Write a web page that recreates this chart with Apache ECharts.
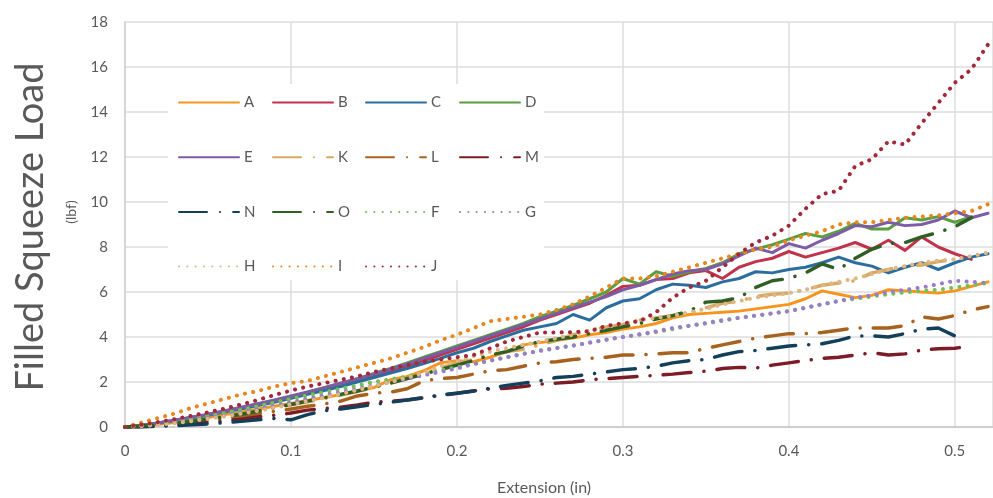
<!DOCTYPE html>
<html>
<head>
<meta charset="utf-8">
<script src="https://cdn.jsdelivr.net/npm/echarts@6/dist/echarts.min.js"></script>
<style>
html,body{margin:0;padding:0;background:#fff;}
#chart{width:993px;height:498px;}
</style>
</head>
<body>
<div id="chart"></div>
<script>
// Extension (in) sample points
var xs = [0,0.01,0.02,0.03,0.04,0.05,0.06,0.07,0.08,0.09,0.10,0.11,0.12,0.13,0.14,0.15,0.16,0.17,0.18,0.19,0.20,0.21,0.22,0.23,0.24,0.25,0.26,0.27,0.28,0.29,0.30,0.31,0.32,0.33,0.34,0.35,0.36,0.37,0.38,0.39,0.40,0.41,0.42,0.43,0.44,0.45,0.46,0.47,0.48,0.49,0.50,0.51,0.52];
var xTicks = [0,0.1,0.2,0.3,0.4,0.5];
var yTicks = [0,2,4,6,8,10,12,14,16,18];

var A = [0,0.05,0.12,0.2,0.3,0.42,0.55,0.66,0.8,0.92,1.05,1.18,1.3,1.45,1.6,1.75,2.1,2.25,2.5,2.85,2.95,2.9,3.1,3.35,3.65,3.75,3.85,3.95,4.1,4.2,4.35,4.45,4.6,4.85,5.0,5.05,5.1,5.15,5.25,5.35,5.45,5.7,6.05,5.9,5.75,5.85,6.1,6.05,6.0,5.95,6.05,6.25,6.45];
var B = [0,0.08,0.18,0.3,0.42,0.55,0.7,0.85,1.0,1.15,1.32,1.5,1.7,1.9,2.1,2.3,2.5,2.72,2.95,3.2,3.45,3.7,3.95,4.2,4.45,4.75,5.0,5.25,5.5,5.85,6.25,6.3,6.55,6.6,6.85,6.95,6.6,7.1,7.35,7.5,7.8,7.55,7.75,7.95,8.2,7.9,8.3,7.85,8.45,8.0,7.7,7.45];
var C = [0,0.08,0.17,0.28,0.4,0.52,0.66,0.8,0.95,1.1,1.28,1.45,1.62,1.8,2.0,2.2,2.4,2.6,2.82,3.05,3.3,3.5,3.8,4.05,4.3,4.45,4.6,5.0,4.75,5.3,5.6,5.7,6.1,6.35,6.3,6.2,6.45,6.6,6.9,6.85,7.0,7.1,7.3,7.55,7.3,7.15,6.85,7.1,7.3,7.0,7.3,7.55,7.7];
var D = [0,0.08,0.18,0.3,0.42,0.55,0.7,0.86,1.02,1.18,1.35,1.55,1.75,1.95,2.15,2.38,2.6,2.85,3.1,3.35,3.6,3.85,4.1,4.35,4.6,4.9,5.15,5.4,5.7,6.0,6.6,6.35,6.9,6.7,6.9,7.05,7.3,7.7,7.9,8.1,8.35,8.6,8.45,8.7,9.05,8.8,8.8,9.3,9.2,9.35,9.1,9.35];
var E = [0,0.08,0.18,0.3,0.43,0.57,0.72,0.88,1.04,1.2,1.38,1.56,1.75,1.95,2.15,2.35,2.57,2.8,3.05,3.3,3.55,3.8,4.05,4.3,4.55,4.8,5.05,5.3,5.55,5.8,6.1,6.3,6.55,6.8,6.95,7.0,7.25,7.6,7.95,7.75,8.15,7.95,8.3,8.6,8.95,8.9,9.1,8.95,9.0,9.2,9.6,9.3,9.5];
var K = [0,0.05,0.11,0.18,0.26,0.35,0.46,0.58,0.72,0.86,1.0,1.12,1.26,1.42,1.58,1.75,1.95,2.15,2.38,2.62,2.85,3.0,3.2,3.35,3.45,3.65,3.85,4.1,4.3,4.45,4.55,4.75,4.85,4.95,5.05,5.3,5.5,5.6,5.8,5.9,5.95,6.1,6.3,6.4,6.5,6.85,7.0,7.15,7.2,7.35,7.45];
var L = [0,0.02,0.06,0.12,0.2,0.28,0.38,0.48,0.58,0.7,0.8,0.92,1.02,1.15,1.38,1.5,1.55,1.7,2.05,2.15,2.2,2.35,2.5,2.55,2.7,2.85,2.9,3.0,3.05,3.1,3.2,3.2,3.25,3.3,3.3,3.5,3.65,3.8,3.95,4.05,4.15,4.15,4.2,4.3,4.4,4.4,4.4,4.5,4.9,4.8,4.95,5.2,5.35];
var M = [0,0.02,0.05,0.09,0.14,0.2,0.27,0.35,0.45,0.52,0.62,0.75,0.82,0.88,0.98,1.1,1.15,1.2,1.3,1.4,1.5,1.6,1.7,1.72,1.8,1.9,1.95,2.0,2.1,2.15,2.2,2.25,2.3,2.35,2.42,2.48,2.6,2.65,2.62,2.75,2.85,2.95,3.05,3.1,3.2,3.3,3.2,3.25,3.42,3.48,3.5,3.6];
var N = [0,0.01,0.03,0.06,0.1,0.14,0.19,0.25,0.32,0.38,0.32,0.55,0.72,0.8,0.9,1.0,1.1,1.2,1.3,1.42,1.5,1.6,1.72,1.85,1.95,2.05,2.2,2.25,2.35,2.45,2.55,2.6,2.7,2.85,2.95,3.0,3.2,3.35,3.4,3.5,3.6,3.65,3.7,3.85,4.05,4.05,4.0,4.15,4.35,4.4,4.05];
var O = [0,0.05,0.1,0.17,0.25,0.35,0.45,0.57,0.7,0.85,1.0,1.15,1.3,1.45,1.6,1.78,1.95,2.15,2.35,2.55,2.75,2.95,3.2,3.35,3.6,3.8,3.9,4.0,4.15,4.3,4.45,4.6,4.8,4.95,5.15,5.55,5.6,5.75,6.2,6.5,6.6,6.85,7.25,7.0,7.5,7.9,8.15,8.2,8.45,8.65,8.9,9.3];
var F = [0,0.06,0.14,0.24,0.36,0.48,0.62,0.76,0.92,1.08,1.25,1.4,1.55,1.7,1.85,2.0,2.12,2.25,2.4,2.52,2.65,2.8,2.95,3.1,3.25,3.4,3.52,3.62,3.75,3.88,4.0,4.1,4.22,4.35,4.5,4.6,4.72,4.85,4.95,5.05,5.15,5.3,5.45,5.6,5.7,5.8,5.9,5.98,6.05,6.1,6.2,6.3,6.4];
var G = [0,0.05,0.11,0.19,0.29,0.4,0.52,0.65,0.8,0.95,1.1,1.25,1.4,1.55,1.7,1.85,2.0,2.15,2.3,2.45,2.6,2.8,2.95,3.1,3.25,3.38,3.5,3.62,3.75,3.88,4.0,4.12,4.25,4.4,4.5,4.62,4.75,4.85,4.95,5.05,5.15,5.3,5.45,5.6,5.75,5.85,6.0,6.1,6.2,6.35,6.5,6.45,6.4];
var H = [0,0.04,0.1,0.17,0.26,0.36,0.47,0.59,0.72,0.86,1.0,1.15,1.3,1.47,1.64,1.82,2.0,2.2,2.42,2.7,2.95,3.15,3.35,3.5,3.65,3.8,3.95,4.1,4.3,4.45,4.6,4.75,4.85,4.95,5.1,5.25,5.45,5.6,5.75,5.85,5.95,6.1,6.3,6.45,6.6,6.8,7.0,7.15,7.3,7.4,7.45,7.6,7.75];
var I = [0,0.2,0.4,0.6,0.85,1.05,1.25,1.45,1.6,1.8,1.95,2.05,2.25,2.45,2.65,2.85,3.05,3.3,3.55,3.85,4.1,4.4,4.7,4.8,4.9,5.0,5.2,5.45,5.8,6.2,6.6,6.6,6.7,6.9,7.1,7.3,7.5,7.7,7.9,8.0,8.3,8.5,8.7,9.0,9.1,9.1,9.2,9.3,9.35,9.4,9.5,9.6,9.9];
var J = [0,0.1,0.22,0.35,0.5,0.65,0.82,1.0,1.2,1.42,1.62,1.8,1.95,2.1,2.25,2.45,2.6,2.75,2.9,3.0,3.1,3.2,3.5,3.8,4.0,4.2,4.2,4.22,4.25,4.5,4.6,4.7,5.1,5.75,6.2,6.5,7.1,7.7,8.2,8.5,8.95,9.7,10.35,10.5,11.6,11.9,12.7,12.55,13.5,14.4,15.3,15.9,17.0];

var names = ['A','B','C','D','E','K','L','M','N','O','F','G','H','I','J'];
var values = [A,B,C,D,E,K,L,M,N,O,F,G,H,I,J];
var colors = ['#F7941D','#C0334A','#2B6E9E','#5A9E3F','#7D5BA6','#D9A964','#A8621F','#7B1C26','#123F5A','#2F5F24','#72C251','#9B7DD0','#DDB883','#E8861F','#A02A3C'];
var styles = ['solid','solid','solid','solid','solid','dashdot','dashdot','dashdot','dashdot','dashdot','dot','dot','dot','dot','dot'];

var series = names.map(function(n, k){
  var st = styles[k];
  var ls = {color: colors[k], width: 3, cap: 'round', join: 'round'};
  if (st === 'dashdot') { ls.type = [28, 13, 0.1, 13]; ls.width = 3.5; }
  if (st === 'dot') { ls.type = [0.1, 8.2]; ls.width = 4; }
  return {
    name: n, type: 'line', symbol: 'none', z: 3,
    data: values[k].map(function(v, i){ return [xs[i], v]; }),
    lineStyle: ls, itemStyle: {color: colors[k]},
    emphasis: {disabled: true}, animation: false
  };
});

var cols = [['A','E','N','H'],['B','K','O','I'],['C','L','F','J'],['D','M','G']];
var colLeft = [173, 267, 360, 454];
var legends = cols.map(function(c, j){
  return {
    data: c, orient: 'vertical', left: colLeft[j], top: 90,
    itemWidth: 60, itemHeight: 14, itemGap: 39.7,
    itemStyle: {opacity: 0},
    textStyle: {fontSize: 15, color: '#595959', fontFamily: 'Lato'},
    selectedMode: false
  };
});

var chart = echarts.init(document.getElementById('chart'), null, {renderer: 'canvas'});
chart.setOption({
  animation: false,
  backgroundColor: '#ffffff',
  color: colors,
  grid: {left: 125, right: 0, top: 22, bottom: 71, containLabel: false},
  legend: legends,
  xAxis: {
    type: 'value', min: 0, max: 0.523, interval: 0.1,
    axisLine: {show: true, lineStyle: {color: '#c8c8c8', width: 1.5}},
    axisTick: {show: false},
    splitLine: {show: true, lineStyle: {color: '#dcdcdc', width: 1.5}},
    axisLabel: {fontSize: 15, color: '#595959', fontFamily: 'Lato', margin: 17, showMaxLabel: false,
      formatter: function(v){ var r = Math.round(v*10)/10; return (Math.abs(v - r) < 1e-6 && xTicks.indexOf(r) >= 0) ? String(r) : ''; }}
  },
  yAxis: {
    type: 'value', min: 0, max: 18, interval: 2,
    axisLine: {show: true, lineStyle: {color: '#d0d0d0', width: 1.5}},
    axisTick: {show: false},
    splitLine: {show: true, lineStyle: {color: '#dcdcdc', width: 1.5}},
    axisLabel: {fontSize: 15, color: '#595959', fontFamily: 'Lato', margin: 17,
      formatter: function(v){ return yTicks.indexOf(v) >= 0 ? String(v) : ''; }}
  },
  graphic: [
    {type: 'rect', z: 1, shape: {x: 168, y: 84, width: 376, height: 196}, style: {fill: '#ffffff'}},
    {type: 'text', x: 31, y: 227, rotation: Math.PI/2, z: 5,
      style: {text: 'Filled Squeeze Load', fill: '#595959', fontSize: 38, fontFamily: 'Lato', align: 'center', verticalAlign: 'middle'}},
    {type: 'text', x: 71, y: 212, rotation: Math.PI/2, z: 5,
      style: {text: '(lbf)', fill: '#595959', fontSize: 14, fontFamily: 'Lato', align: 'center', verticalAlign: 'middle'}},
    {type: 'text', x: 544, y: 488, z: 5,
      style: {text: 'Extension (in)', fill: '#595959', fontSize: 16, fontFamily: 'Lato', align: 'center', verticalAlign: 'middle'}}
  ],
  series: series
});
</script>
</body>
</html>
